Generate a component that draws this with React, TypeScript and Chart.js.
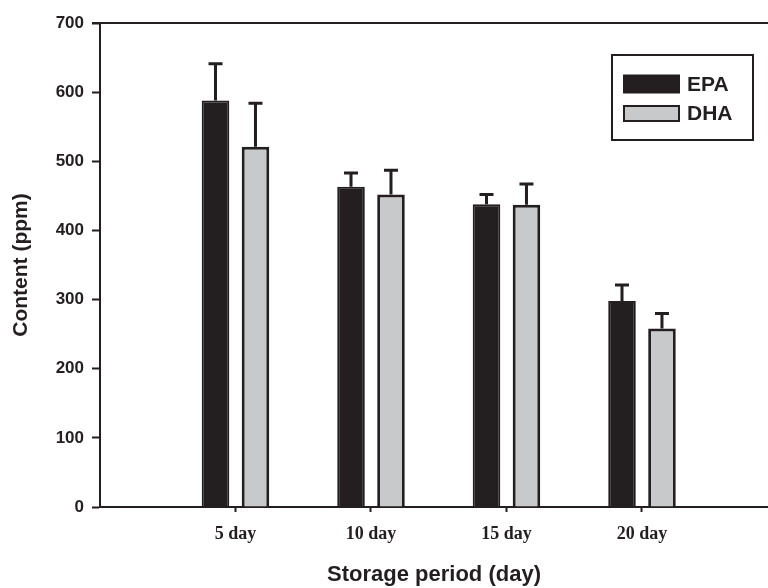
import React, { useEffect, useRef } from 'react';
import { Chart, registerables } from 'chart.js';

Chart.register(...registerables);

const categories = ['5 day', '10 day', '15 day', '20 day'];
const categoryPositions = [1, 2, 3, 4];
const epaValues = [588, 463, 438, 298];
const epaErrors = [53, 20, 14, 23];
const dhaValues = [521, 452, 437, 258];
const dhaErrors = [63, 35, 30, 22];
const seriesLabels = ['EPA', 'DHA'];
const yMin = 0;
const yMax = 700;
const yStep = 100;

const INK = '#231f20';
const GREY = '#c8c9cb';

const errorBarPlugin = {
  id: 'errorBars',
  afterDatasetsDraw(chart: any) {
    const ctx = chart.ctx;
    const yScale = chart.scales.y;
    chart.data.datasets.forEach((ds: any, di: number) => {
      const meta = chart.getDatasetMeta(di);
      const errs: number[] = ds.errors || [];
      meta.data.forEach((el: any, i: number) => {
        const v = ds.data[i].y;
        const top = yScale.getPixelForValue(v + errs[i]);
        const x = el.x;
        ctx.save();
        ctx.strokeStyle = INK;
        ctx.lineWidth = 3;
        ctx.beginPath();
        ctx.moveTo(x, el.y);
        ctx.lineTo(x, top);
        ctx.moveTo(x - 7, top);
        ctx.lineTo(x + 7, top);
        ctx.stroke();
        ctx.restore();
      });
    });
  },
};

const framePlugin = {
  id: 'frameTop',
  afterDraw(chart: any) {
    const { ctx, chartArea } = chart;
    ctx.save();
    ctx.strokeStyle = INK;
    ctx.lineWidth = 2;
    ctx.beginPath();
    ctx.moveTo(chartArea.left - 8, chartArea.top);
    ctx.lineTo(chartArea.right, chartArea.top);
    ctx.stroke();
    ctx.restore();
  },
};

const legendBoxPlugin = {
  id: 'legendBox',
  afterDraw(chart: any) {
    const { ctx } = chart;
    const bx = 612, by = 55, bw = 141, bh = 85;
    ctx.save();
    ctx.fillStyle = '#ffffff';
    ctx.fillRect(bx, by, bw, bh);
    ctx.strokeStyle = INK;
    ctx.lineWidth = 2;
    ctx.strokeRect(bx, by, bw, bh);
    const rows = [84, 113.5];
    chart.data.datasets.forEach((ds: any, i: number) => {
      const cy = rows[i];
      const h = i === 0 ? 17 : 15;
      ctx.fillStyle = ds.backgroundColor;
      ctx.fillRect(624, cy - h / 2, 55, h);
      ctx.strokeStyle = INK;
      ctx.lineWidth = 2;
      ctx.strokeRect(624, cy - h / 2, 55, h);
      ctx.fillStyle = INK;
      ctx.font = 'bold 21px "Liberation Sans", Arial, sans-serif';
      ctx.textAlign = 'left';
      ctx.textBaseline = 'middle';
      ctx.fillText(ds.label, 687, cy + 1);
    });
    ctx.restore();
  },
};

export default function App() {
  const ref = useRef<HTMLCanvasElement | null>(null);

  useEffect(() => {
    if (!ref.current) return;
    const chart = new Chart(ref.current, {
      type: 'bar',
      data: {
        datasets: [
          {
            label: seriesLabels[0],
            data: categoryPositions.map((x, i) => ({ x, y: epaValues[i] })),
            errors: epaErrors,
            backgroundColor: INK,
            borderColor: INK,
            borderWidth: 2,
          } as any,
          {
            label: seriesLabels[1],
            data: categoryPositions.map((x, i) => ({ x, y: dhaValues[i] })),
            errors: dhaErrors,
            backgroundColor: GREY,
            borderColor: INK,
            borderWidth: 3,
          } as any,
        ],
      },
      options: {
        animation: false,
        responsive: false,
        categoryPercentage: 0.59,
        barPercentage: 0.69,
        layout: { padding: { top: 23, right: 0, left: 0, bottom: 0 } },
        plugins: {
          legend: { display: false },
          tooltip: { enabled: false },
        },
        scales: {
          x: {
            type: 'linear',
            offset: false,
            min: 0,
            max: 4.93,
            afterBuildTicks: (axis: any) => {
              axis.ticks = categoryPositions.map((v) => ({ value: v }));
            },
            afterFit: (axis: any) => {
              axis.height = 81;
            },
            grid: {
              offset: false,
              drawOnChartArea: false,
              drawTicks: true,
              tickLength: 5,
              tickWidth: 2,
              tickColor: INK,
            },
            border: { display: true, color: INK, width: 2 },
            ticks: {
              color: INK,
              padding: 12,
              font: { family: '"Liberation Serif", "Times New Roman", serif', size: 18, weight: 'bold' },
              callback: (value: any) => {
                const idx = categoryPositions.indexOf(Number(value));
                return idx >= 0 ? categories[idx] : '';
              },
            },
            title: {
              display: true,
              text: 'Storage period (day)',
              color: INK,
              font: { family: '"Liberation Sans", Arial, sans-serif', size: 22, weight: 'bold' },
              padding: { top: 0, bottom: 0 },
            },
          },
          y: {
            type: 'linear',
            min: yMin,
            max: yMax,
            afterFit: (axis: any) => {
              axis.width = 100;
            },
            grid: {
              drawOnChartArea: false,
              drawTicks: true,
              tickLength: 8,
              tickWidth: 2,
              tickColor: INK,
            },
            border: { display: true, color: INK, width: 2 },
            ticks: {
              stepSize: yStep,
              color: INK,
              padding: 8,
              font: { family: '"Liberation Sans", Arial, sans-serif', size: 17, weight: 'bold' },
            },
            title: {
              display: true,
              text: 'Content (ppm)',
              color: INK,
              font: { family: '"Liberation Sans", Arial, sans-serif', size: 21, weight: 'bold' },
              padding: { top: 9, bottom: 0 },
            },
          },
        },
      } as any,
      plugins: [errorBarPlugin, framePlugin, legendBoxPlugin],
    });
    return () => chart.destroy();
  }, []);

  return (
    <div style={{ position: 'fixed', left: 0, top: 0, width: 768, height: 588, background: '#fff' }}>
      <canvas ref={ref} width={768} height={588} style={{ display: 'block' }} />
    </div>
  );
}
